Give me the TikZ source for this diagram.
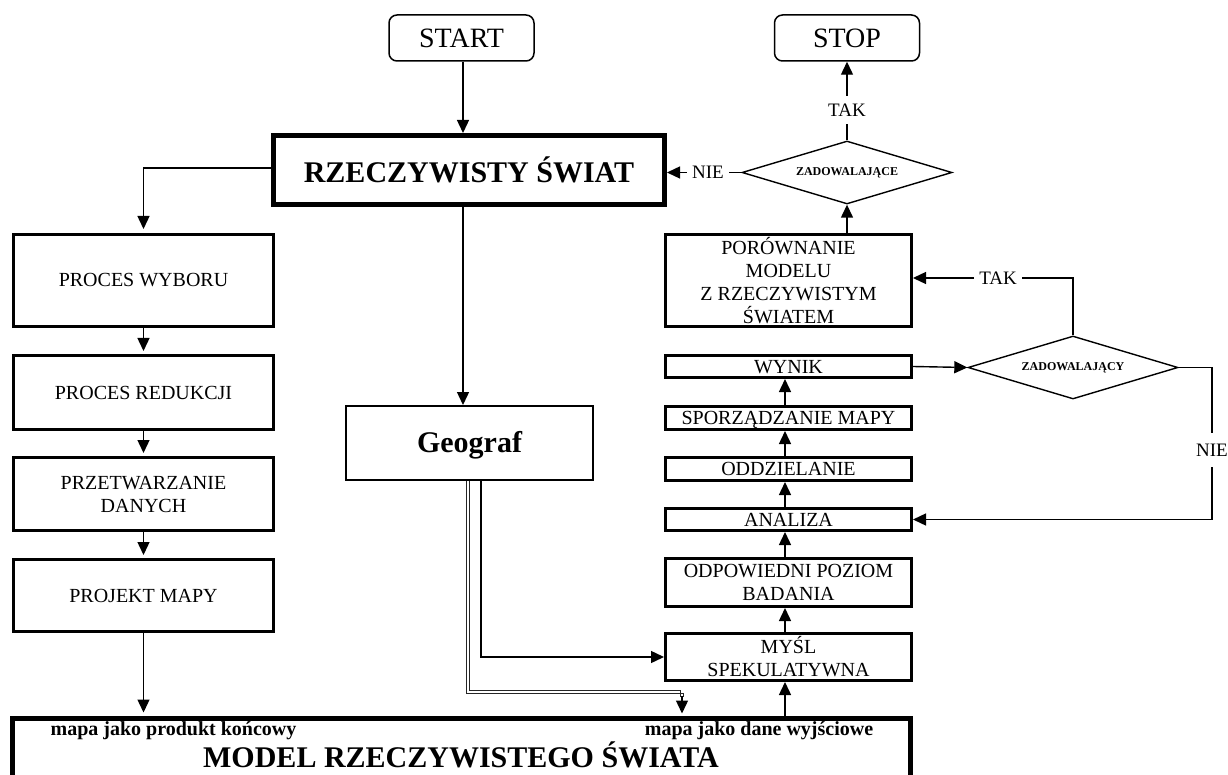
\documentclass[tikz,border=0pt]{standalone}
\usepackage{fontspec}
\setmainfont{Liberation Serif}
\usetikzlibrary{shapes.geometric,arrows.meta}
\begin{document}
\begin{tikzpicture}[x=1pt,y=-1pt,
  box/.style={draw, line width=3pt, inner sep=0pt, align=center, font=\fontsize{20}{23}\selectfont},
  one/.style={text height=13pt, text depth=0pt},
  bigbox/.style={draw, line width=5pt, inner sep=0pt, align=center, font=\bfseries\fontsize{30}{34}\selectfont},
  term/.style={draw, rounded corners=8pt, line width=1.5pt, inner sep=0pt, minimum width=145pt, minimum height=46pt, font=\fontsize{28}{32}\selectfont},
  dia/.style={diamond, draw, line width=1.4pt, minimum width=210pt, minimum height=63pt, inner sep=0pt, aspect=3.33, font=\bfseries\fontsize{12}{14}\selectfont},
  lab/.style={inner xsep=5pt, inner ysep=8pt, font=\fontsize{19}{22}\selectfont},
  ln/.style={line width=1.4pt},
  arr/.style={line width=1.4pt, -{Triangle[length=13pt,width=12pt]}},
  thinln/.style={line width=0.7pt, draw=black!85},
  small/.style={font=\bfseries\fontsize{20}{24}\selectfont, inner sep=0pt}
]
\useasboundingbox (0,0) rectangle (1228,775);
\clip (0,0) rectangle (1228,775);

% coordinates for connector columns
\coordinate (ax) at (463,0);
\coordinate (rx) at (785,0);
\coordinate (gi) at (481,0);
\coordinate (go1) at (466.8,0);
\coordinate (go2) at (469.4,0);

% terminals
\node[term] (start) at (461.5,38) {START};
\node[term] (stop) at (847,38) {STOP};

% main boxes
\node[bigbox, minimum width=391pt, minimum height=69pt] (rw) at (469,170) {RZECZYWISTY ŚWIAT};
\node[draw, line width=2pt, inner sep=0pt, minimum width=247pt, minimum height=74pt, text height=21pt, text depth=2pt, font=\bfseries\fontsize{30}{34}\selectfont] (geo) at (469.5,443) {Geograf};

% left column
\node[box, one, minimum width=260pt, minimum height=92pt] (pw) at (143.5,280.5) {PROCES WYBORU};
\node[box, one, minimum width=260pt, minimum height=74pt] (pr) at (143.5,392.5) {PROCES REDUKCJI};
\node[box, minimum width=260pt, minimum height=73pt] (pd) at (143.5,494) {PRZETWARZANIE\\DANYCH};
\node[box, one, minimum width=260pt, minimum height=72pt] (pm) at (143.5,595.5) {PROJEKT MAPY};

% right column
\node[box, minimum width=246pt, minimum height=92pt] (por) at (788.5,280.5) {PORÓWNANIE\\MODELU\\Z RZECZYWISTYM\\ŚWIATEM};
\node[box, one, minimum width=246pt, minimum height=22pt] (wyn) at (788.5,366.5) {WYNIK};
\node[box, one, minimum width=246pt, minimum height=23pt] (spo) at (788.5,418) {SPORZĄDZANIE MAPY};
\node[box, one, minimum width=246pt, minimum height=23pt] (odd) at (788.5,469) {ODDZIELANIE};
\node[box, one, minimum width=246pt, minimum height=22pt] (ana) at (788.5,519.5) {ANALIZA};
\node[box, minimum width=246pt, minimum height=48pt] (odp) at (788.5,582.5) {ODPOWIEDNI POZIOM\\BADANIA};
\node[box, minimum width=246pt, minimum height=47pt] (mys) at (788.5,657) {MYŚL\\SPEKULATYWNA};

% diamonds
\node[dia] (d1) at (847,172.5) {ZADOWALAJĄCE};
\node[dia] (d2) at (1073,367.5) {ZADOWALAJĄCY};

% labels
\node[lab] (nie1) at (708,172.5) {NIE};
\node[lab] (tak1) at (847,110) {TAK};
\node[lab] (tak2) at (998,278) {TAK};
\node[lab, inner ysep=11pt] (nie2) at (1212,450) {NIE};

% bottom model box
\node[bigbox, minimum width=898pt, minimum height=90pt, anchor=north] (model) at (461.5,715.5) {};
\node[small] (mp1) at (173.5,731) {mapa jako produkt końcowy};
\node[small] (mp2) at (759,731) {mapa jako dane wyjściowe};
\node[font=\bfseries\fontsize{30}{34}\selectfont, inner sep=0pt] (mtxt) at (461,755) {MODEL RZECZYWISTEGO ŚWIATA};

% connectors: top
\draw[arr] (start.south -| ax) -- (rw.north -| ax);
\draw[arr] (rw.south -| ax) -- (geo.north -| ax);
\draw[arr, shorten >=4pt] (rw.west |- 0,168) -| (pw.north);

% left column
\draw[arr, shorten >=3pt] (pw.south) -- (pr.north);
\draw[arr, shorten >=3pt] (pr.south) -- (pd.north);
\draw[arr, shorten >=3pt] (pd.south) -- (pm.north);
\draw[arr, shorten >=3pt] (pm.south) -- (pm.south |- model.north);

% geograf outputs
\draw[arr] (geo.south -| gi) |- (mys.west);
\coordinate (gc1) at (683.3,693.4);
\coordinate (gc2) at (680.7,690.8);
\coordinate (gc) at (682,692);
\draw[thinln] (geo.south -| go1) |- (gc1) -- ++(0,4);
\draw[thinln] (geo.south -| go2) |- (gc2) -- ++(0,6.6);
\draw[arr, shorten >=2pt] (gc) ++(0,4) -- (gc |- model.north);

% right column upward
\draw[arr] (model.north -| rx) -- (mys.south -| rx);
\draw[arr] (mys.north -| rx) -- (odp.south -| rx);
\draw[arr] (odp.north -| rx) -- (ana.south -| rx);
\draw[arr] (ana.north -| rx) -- (odd.south -| rx);
\draw[arr] (odd.north -| rx) -- (spo.south -| rx);
\draw[arr] (spo.north -| rx) -- (wyn.south -| rx);

% comparison and decisions
\draw[arr] (por.north -| d1.south) -- (d1.south);
\draw[ln] (d1.north) -- (tak1.south);
\draw[arr] (tak1.north) -- (stop.south);
\draw[ln] (d1.west) -- (nie1.east);
\draw[arr] (nie1.west) -- (nie1.west -| rw.east);

\draw[arr] (wyn.east) -- (d2.west);
\draw[ln] (d2.north) |- (tak2.east);
\draw[arr] (tak2.west) -- (tak2.west -| por.east);
\draw[ln] (d2.east) -| (nie2.north);
\draw[arr] (nie2.south) |- (ana.east);
\end{tikzpicture}
\end{document}
